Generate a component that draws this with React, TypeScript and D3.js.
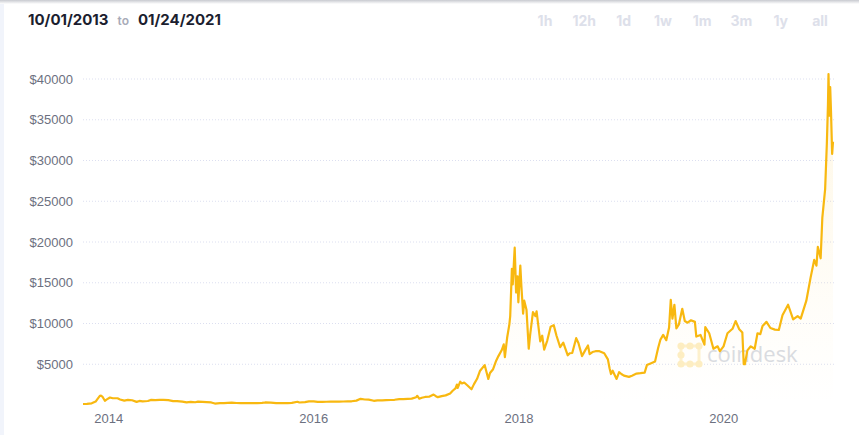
import React, { useRef, useEffect } from 'react';
import * as d3 from 'd3';

type Pt = [string, number];

// BPI closing prices
const prices2013: Pt[] = [
  ['2013-10-01', 123], ['2013-10-15', 140], ['2013-11-01', 205], ['2013-11-15', 420],
  ['2013-11-22', 760], ['2013-11-30', 1130], ['2013-12-04', 1150], ['2013-12-10', 990],
  ['2013-12-18', 520], ['2013-12-25', 680],
];
const prices2014: Pt[] = [
  ['2014-01-05', 920], ['2014-01-15', 830], ['2014-02-01', 830], ['2014-02-10', 680],
  ['2014-02-25', 530], ['2014-03-10', 630], ['2014-03-25', 580], ['2014-04-10', 380],
  ['2014-04-20', 500], ['2014-05-01', 450], ['2014-05-20', 490], ['2014-06-01', 630],
  ['2014-06-15', 590], ['2014-07-01', 640], ['2014-07-15', 620], ['2014-08-01', 590],
  ['2014-08-18', 480], ['2014-09-01', 480], ['2014-09-20', 410], ['2014-10-05', 320],
  ['2014-10-20', 385], ['2014-11-05', 340], ['2014-11-15', 420], ['2014-12-01', 380],
  ['2014-12-15', 350],
];
const prices2015: Pt[] = [
  ['2015-01-01', 315], ['2015-01-14', 180], ['2015-02-01', 225], ['2015-02-15', 235],
  ['2015-03-01', 260], ['2015-03-15', 285], ['2015-04-01', 245], ['2015-04-15', 220],
  ['2015-05-01', 235], ['2015-05-15', 237], ['2015-06-01', 225], ['2015-06-15', 237],
  ['2015-07-01', 257], ['2015-07-12', 310], ['2015-08-01', 282], ['2015-08-20', 230],
  ['2015-09-01', 228], ['2015-09-15', 230], ['2015-10-01', 238], ['2015-10-15', 255],
  ['2015-11-04', 400], ['2015-11-11', 310], ['2015-12-01', 362], ['2015-12-15', 445],
];
const prices2016: Pt[] = [
  ['2016-01-01', 434], ['2016-01-15', 380], ['2016-02-01', 372], ['2016-02-15', 402],
  ['2016-03-01', 432], ['2016-03-15', 415], ['2016-04-01', 418], ['2016-04-15', 430],
  ['2016-05-01', 452], ['2016-05-15', 456], ['2016-06-01', 538], ['2016-06-16', 760],
  ['2016-07-01', 677], ['2016-07-15', 660], ['2016-08-02', 515], ['2016-08-15', 570],
  ['2016-09-01', 572], ['2016-09-15', 608], ['2016-10-01', 615], ['2016-10-15', 640],
  ['2016-11-01', 730], ['2016-11-15', 712], ['2016-12-01', 752], ['2016-12-15', 780],
  ['2016-12-31', 960],
];
const prices2017: Pt[] = [
  ['2017-01-04', 1130], ['2017-01-11', 770], ['2017-01-20', 895], ['2017-02-01', 985],
  ['2017-02-15', 1010], ['2017-03-03', 1280], ['2017-03-10', 1110], ['2017-03-18', 960],
  ['2017-04-01', 1090], ['2017-04-15', 1180], ['2017-05-01', 1420], ['2017-05-10', 1750],
  ['2017-05-20', 2040], ['2017-05-25', 2500], ['2017-05-28', 2100], ['2017-06-06', 2860],
  ['2017-06-12', 2650], ['2017-06-20', 2760], ['2017-07-01', 2420], ['2017-07-16', 1930],
  ['2017-07-25', 2560], ['2017-08-05', 3220], ['2017-08-15', 4170], ['2017-09-01', 4900],
  ['2017-09-14', 3200], ['2017-09-20', 3920], ['2017-10-01', 4390], ['2017-10-12', 5440],
  ['2017-10-20', 6000], ['2017-11-01', 6750], ['2017-11-08', 7450], ['2017-11-12', 5860],
  ['2017-11-20', 8250], ['2017-11-28', 9900], ['2017-12-01', 10900], ['2017-12-07', 16700],
  ['2017-12-10', 14800], ['2017-12-17', 19300], ['2017-12-22', 13800], ['2017-12-27', 15800],
  ['2017-12-30', 12600],
];
const prices2018: Pt[] = [
  ['2018-01-06', 17100], ['2018-01-10', 14500], ['2018-01-16', 11200], ['2018-01-20', 12800],
  ['2018-01-28', 11700], ['2018-02-05', 6900], ['2018-02-10', 8600], ['2018-02-20', 11400],
  ['2018-03-01', 10900], ['2018-03-05', 11500], ['2018-03-18', 7800], ['2018-03-25', 8500],
  ['2018-04-01', 6800], ['2018-04-12', 7900], ['2018-04-24', 9600], ['2018-05-05', 9800],
  ['2018-05-15', 8500], ['2018-05-28', 7100], ['2018-06-08', 7650], ['2018-06-24', 6100],
  ['2018-07-01', 6350], ['2018-07-10', 6380], ['2018-07-24', 8200], ['2018-08-01', 7600],
  ['2018-08-14', 6000], ['2018-08-25', 6700], ['2018-09-04', 7300], ['2018-09-10', 6250],
  ['2018-09-20', 6500], ['2018-10-01', 6600], ['2018-10-15', 6600], ['2018-11-01', 6350],
  ['2018-11-14', 5600], ['2018-11-20', 4500], ['2018-11-25', 3800], ['2018-12-01', 4200],
  ['2018-12-15', 3200], ['2018-12-24', 4030],
];
const prices2019: Pt[] = [
  ['2019-01-01', 3800], ['2019-01-10', 3600], ['2019-01-28', 3450], ['2019-02-08', 3600],
  ['2019-02-24', 3850], ['2019-03-10', 3900], ['2019-03-25', 3970], ['2019-04-02', 4900],
  ['2019-04-15', 5100], ['2019-05-01', 5350], ['2019-05-12', 7000], ['2019-05-20', 8000],
  ['2019-05-30', 8600], ['2019-06-10', 7950], ['2019-06-20', 9500], ['2019-06-26', 12900],
  ['2019-07-02', 10600], ['2019-07-09', 12300], ['2019-07-16', 9400], ['2019-07-25', 9900],
  ['2019-08-06', 11800], ['2019-08-15', 10300], ['2019-08-25', 10100], ['2019-09-06', 10400],
  ['2019-09-20', 10200], ['2019-09-25', 8400], ['2019-10-10', 8600], ['2019-10-24', 7400],
  ['2019-10-27', 9550], ['2019-11-10', 8800], ['2019-11-25', 6900], ['2019-12-10', 7200],
  ['2019-12-18', 6600], ['2019-12-31', 7200],
];
const prices2020: Pt[] = [
  ['2020-01-14', 8800], ['2020-02-01', 9350], ['2020-02-12', 10300], ['2020-02-25', 9300],
  ['2020-03-07', 8900], ['2020-03-12', 5000], ['2020-03-16', 5000], ['2020-03-25', 6700],
  ['2020-04-06', 7200], ['2020-04-20', 6900], ['2020-04-30', 8800], ['2020-05-10', 8700],
  ['2020-05-18', 9700], ['2020-06-01', 10200], ['2020-06-15', 9450], ['2020-07-01', 9250],
  ['2020-07-15', 9200], ['2020-07-28', 11000], ['2020-08-17', 12300], ['2020-09-04', 10500],
  ['2020-09-20', 10900], ['2020-10-01', 10600], ['2020-10-21', 12800], ['2020-11-05', 15600],
  ['2020-11-18', 17800], ['2020-11-26', 17100], ['2020-12-01', 19400], ['2020-12-11', 18000],
  ['2020-12-17', 23000], ['2020-12-27', 26500],
];
const prices2021: Pt[] = [
  ['2021-01-02', 32000], ['2021-01-06', 36800], ['2021-01-08', 40600], ['2021-01-11', 35500],
  ['2021-01-14', 39000], ['2021-01-17', 35900], ['2021-01-21', 30800], ['2021-01-24', 32300],
];

const yTicks = [5000, 10000, 15000, 20000, 25000, 30000, 35000, 40000];
const xTickYears = [2014, 2016, 2018, 2020];
const rangeButtons = ['1h', '12h', '1d', '1w', '1m', '3m', '1y', 'all'];
const startLabel = '10/01/2013';
const endLabel = '01/24/2021';

const W = 859;
const H = 435;

const App: React.FC = () => {
  const ref = useRef<SVGSVGElement>(null);

  useEffect(() => {
    const svg = d3.select(ref.current!);
    svg.selectAll('*').remove();

    const parse = d3.timeParse('%Y-%m-%d');
    const data = [
      ...prices2013, ...prices2014, ...prices2015, ...prices2016,
      ...prices2017, ...prices2018, ...prices2019, ...prices2020, ...prices2021,
    ].map(([d, v]) => ({ date: parse(d)!, value: v }));

    const x = d3.scaleTime()
      .domain([parse('2013-10-01')!, parse('2021-01-24')!])
      .range([83, 833]);
    const y = d3.scaleLinear().domain([0, 40000]).range([405, 79]);

    // page chrome
    svg.append('rect').attr('width', W).attr('height', H).attr('fill', '#fff');
    svg.append('rect').attr('width', 4).attr('height', H).attr('fill', '#f1f4fb');
    const defs = svg.append('defs');
    const shadow = defs.append('linearGradient').attr('id', 'topShadow')
      .attr('x1', 0).attr('y1', 0).attr('x2', 0).attr('y2', 1);
    shadow.append('stop').attr('offset', 0).attr('stop-color', '#c8cad0');
    shadow.append('stop').attr('offset', 1).attr('stop-color', '#fff');
    svg.append('rect').attr('width', W).attr('height', 4).attr('fill', 'url(#topShadow)');

    // header
    const head = svg.append('text').attr('y', 25).attr('font-family', 'Inter, sans-serif');
    head.append('tspan').attr('x', 28).attr('font-size', 15).attr('font-weight', 700)
      .attr('fill', '#1b1e2f').text(startLabel);
    head.append('tspan').attr('dx', 9).attr('font-size', 12).attr('font-weight', 600)
      .attr('fill', '#a8abb8').text('to');
    head.append('tspan').attr('dx', 9).attr('font-size', 15).attr('font-weight', 700)
      .attr('fill', '#1b1e2f').text(endLabel);

    const btnX = d3.scalePoint<string>().domain(rangeButtons).range([545, 820]);
    svg.append('g').selectAll('text').data(rangeButtons).enter().append('text')
      .attr('x', d => btnX(d)!)
      .attr('y', 26)
      .attr('text-anchor', 'middle')
      .attr('font-family', 'Inter, sans-serif')
      .attr('font-size', 14)
      .attr('font-weight', 700)
      .attr('fill', '#dde0ea')
      .text(d => d);

    // grid + y labels
    const grid = svg.append('g');
    grid.selectAll('line').data(yTicks).enter().append('line')
      .attr('x1', 83).attr('x2', 834)
      .attr('y1', d => y(d)).attr('y2', d => y(d))
      .attr('stroke', '#dcdff0').attr('stroke-width', 1)
      .attr('stroke-dasharray', '1,2');
    grid.selectAll('text').data(yTicks).enter().append('text')
      .attr('x', 73).attr('y', d => y(d) + 4.5)
      .attr('text-anchor', 'end')
      .attr('font-family', '"Liberation Sans", Arial, sans-serif')
      .attr('font-size', 13)
      .attr('fill', '#6c7080')
      .text(d => `$${d}`);

    // x labels
    svg.append('g').selectAll('text').data(xTickYears).enter().append('text')
      .attr('x', d => x(new Date(d, 0, 1)))
      .attr('y', 423)
      .attr('text-anchor', 'middle')
      .attr('font-family', '"Liberation Sans", Arial, sans-serif')
      .attr('font-size', 13)
      .attr('fill', '#6c7080')
      .text(d => String(d));

    // watermark
    const wm = svg.append('g').attr('transform', 'translate(679,344)');
    const dots = [[0, 0], [9, 0], [18, 0], [0, 9], [0, 18], [9, 18], [18, 18]];
    wm.append('rect').attr('x', 2).attr('y', 2).attr('width', 18).attr('height', 18)
      .attr('fill', 'none').attr('stroke', '#fdf1cf').attr('stroke-width', 3);
    wm.selectAll('circle').data(dots).enter().append('circle')
      .attr('cx', d => d[0] + 2).attr('cy', d => d[1] + 2).attr('r', 3.6)
      .attr('fill', '#fdeec4');
    wm.append('text').attr('x', 28).attr('y', 18)
      .attr('font-family', '"Open Sans", sans-serif')
      .attr('font-size', 22).attr('fill', '#d9dce3')
      .text('coindesk');

    // area + line
    const fillGrad = defs.append('linearGradient').attr('id', 'areaFill')
      .attr('gradientUnits', 'userSpaceOnUse')
      .attr('x1', 0).attr('y1', 79).attr('x2', 0).attr('y2', 405);
    fillGrad.append('stop').attr('offset', 0).attr('stop-color', '#fbc02d').attr('stop-opacity', 0.13);
    fillGrad.append('stop').attr('offset', 0.7).attr('stop-color', '#fbc02d').attr('stop-opacity', 0.03);
    fillGrad.append('stop').attr('offset', 1).attr('stop-color', '#fbc02d').attr('stop-opacity', 0);

    const area = d3.area<{ date: Date; value: number }>()
      .x(d => x(d.date)).y0(405).y1(d => y(d.value));
    const line = d3.line<{ date: Date; value: number }>()
      .x(d => x(d.date)).y(d => y(d.value));

    svg.append('path').datum(data).attr('d', area).attr('fill', 'url(#areaFill)');
    svg.append('path').datum(data).attr('d', line)
      .attr('fill', 'none').attr('stroke', '#f8b810').attr('stroke-width', 2.2)
      .attr('stroke-linejoin', 'round');
  }, []);

  return (
    <div style={{ position: 'fixed', left: 0, top: 0 }}>
      <svg ref={ref} width={W} height={H} style={{ display: 'block' }}></svg>
    </div>
  );
};

export default App;
